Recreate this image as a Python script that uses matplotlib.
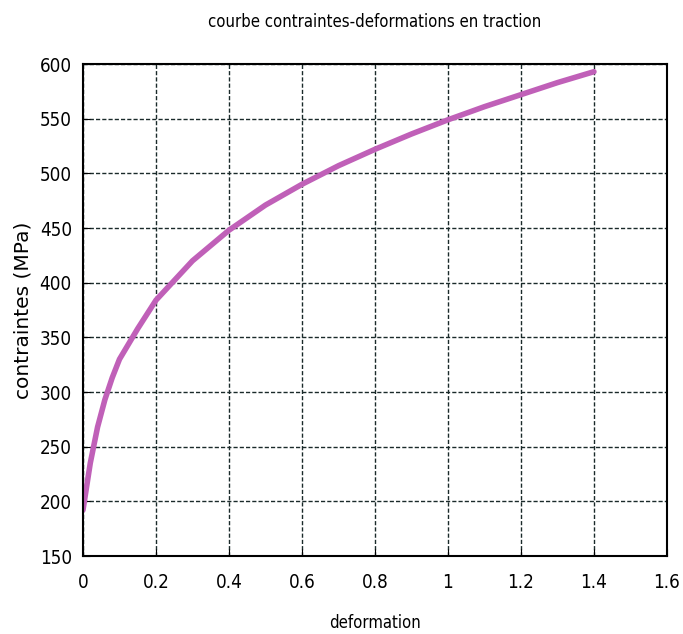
import matplotlib
matplotlib.use("Agg")
import matplotlib.pyplot as plt

# courbe contraintes-deformations
deformation = [0, 0.02, 0.04, 0.06, 0.08, 0.1, 0.15, 0.2, 0.3, 0.4, 0.5,
               0.6, 0.7, 0.8, 0.9, 1.0, 1.1, 1.2, 1.3, 1.4]
contraintes = [192, 235, 268, 293, 313, 330, 358, 384, 420, 448, 471,
               490, 507, 522, 536, 549, 561, 572, 583, 593]

x_ticks = [0, 0.2, 0.4, 0.6, 0.8, 1, 1.2, 1.4, 1.6]
x_labels = ["0", "0.2", "0.4", "0.6", "0.8", "1", "1.2", "1.4", "1.6"]
y_ticks = [150, 200, 250, 300, 350, 400, 450, 500, 550, 600]

fig = plt.figure(figsize=(6.83, 6.34), dpi=100)
ax = fig.add_axes([0.1215, 0.123, 0.855, 0.776])

ax.plot(deformation, contraintes, color="#c060b8", linewidth=4, solid_capstyle="round")

ax.set_xlim(0, 1.6)
ax.set_ylim(150, 600)
ax.set_xticks(x_ticks)
ax.set_xticklabels(x_labels)
ax.set_yticks(y_ticks)
ax.grid(True, color="#1a2a2a", linestyle=(0, (3, 1.5)), linewidth=1)
ax.tick_params(direction="in", length=5, labelsize=13.5)
ax.tick_params(axis="x", pad=12)
ax.tick_params(axis="y", pad=8)
for lab in ax.get_xticklabels() + ax.get_yticklabels():
    lab.set_fontstretch("condensed")
for s in ax.spines.values():
    s.set_linewidth(1.5)

ax.set_title("courbe contraintes-deformations en traction", fontsize=12,
             fontstretch="condensed", pad=27)
ax.set_xlabel("deformation", fontsize=12, fontstretch="condensed", labelpad=16)
ax.set_ylabel("contraintes (MPa)", fontsize=14.5, labelpad=5)

fig.savefig("out.png", dpi=100)
